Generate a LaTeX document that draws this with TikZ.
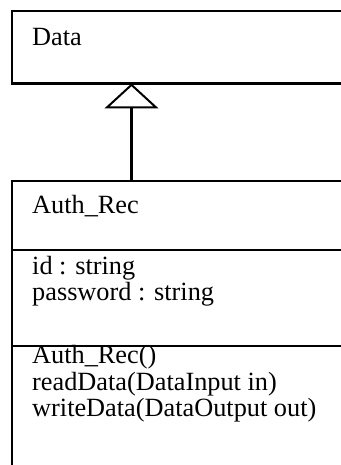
\documentclass[tikz,border=0pt]{standalone}
\usepackage{fontspec}
\setmainfont{Liberation Serif}
\usetikzlibrary{arrows.meta}
\begin{document}
\begin{tikzpicture}[x=1pt,y=1pt,
  classbox/.style={draw, line width=2.2pt, anchor=north west, inner sep=0pt, rectangle},
  label/.style={anchor=base west, inner sep=0pt, font=\fontsize{26.3}{27}\selectfont},
  sep/.style={line width=2.2pt},
  inherit/.style={line width=2.6pt, -{Triangle[open, length=25pt, width=54pt, line width=2pt]}}]
  \useasboundingbox (0,0) rectangle (340,-465);
  % superclass box (runs off the right edge)
  \node[classbox, minimum width=360pt, minimum height=72.5pt] (data) at (11,-10) {};
  \node[label] (dataname) at (32,-45.7) {Data};
  % subclass box (runs off the right and bottom edges)
  \node[classbox, minimum width=360pt, minimum height=320pt] (auth) at (11,-179.5) {};
  \node[label] (authname) at (32,-213) {Auth\_Rec};
  \coordinate (s1w) at (11,-250);
  \coordinate (s1e) at (360,-250);
  \draw[sep] (s1w) -- (s1e);
  \node[label] (attr1) at (32,-274) {id : string};
  \node[label] (attr2) at (32,-300.5) {password : string};
  \coordinate (s2w) at (11,-345.7);
  \coordinate (s2e) at (360,-345.7);
  \draw[sep] (s2w) -- (s2e);
  \node[label] (op1) at (32,-363.5) {Auth\_Rec()};
  \node[label] (op2) at (32,-390) {readData(DataInput in)};
  \node[label] (op3) at (32,-416.5) {writeData(DataOutput out)};
  % generalization
  \coordinate (gbot) at (131.5,-179.5);
  \coordinate (gtop) at (131.5,-83.5);
  \draw[inherit] (gbot) -- (gtop);
\end{tikzpicture}
\end{document}
